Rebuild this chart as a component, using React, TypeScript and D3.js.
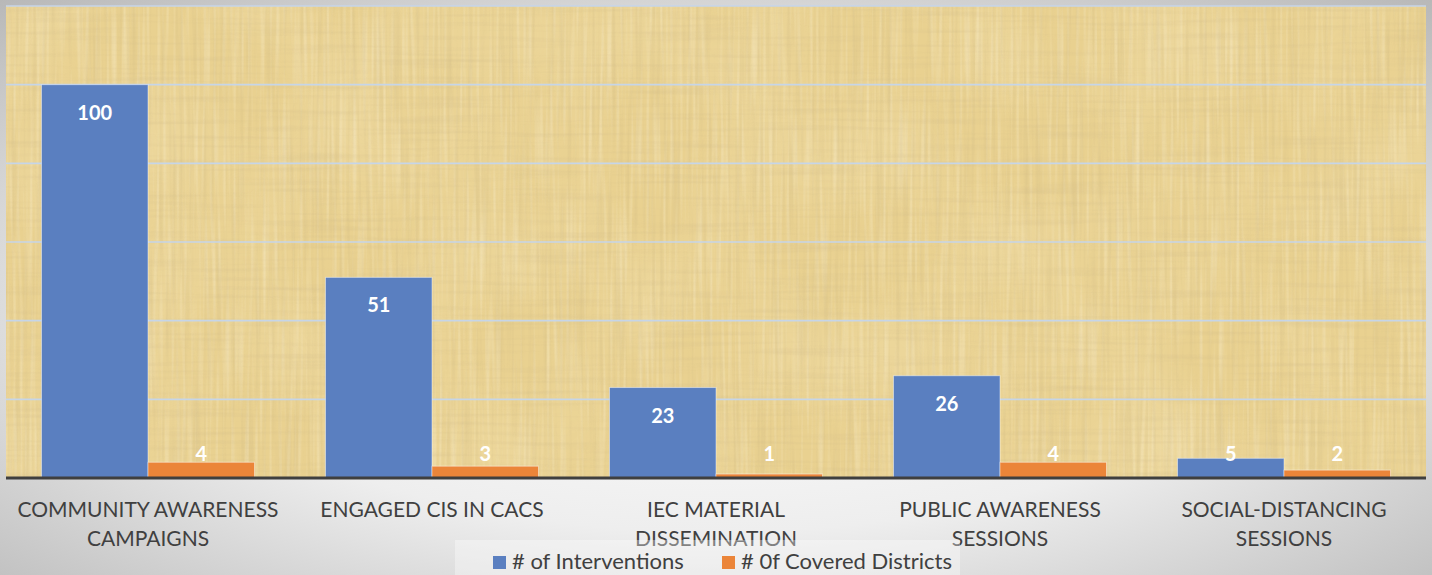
import React from "react";
import * as d3 from "d3";

const categories = [
  ["COMMUNITY AWARENESS", "CAMPAIGNS"],
  ["ENGAGED CIS IN CACS"],
  ["IEC MATERIAL", "DISSEMINATION"],
  ["PUBLIC AWARENESS", "SESSIONS"],
  ["SOCIAL-DISTANCING", "SESSIONS"],
];
const seriesNames = ["# of Interventions", "# 0f Covered Districts"];
const interventions = [100, 51, 23, 26, 5];
const coveredDistricts = [4, 3, 1, 4, 2];
const yTicks = [0, 20, 40, 60, 80, 100, 120];

const W = 1432;
const H = 575;
const colors = ["#5A7FC0", "#EB8539"];
const font = "Lato, 'Open Sans', sans-serif";

export default function App() {
  const plot = { left: 6, right: 1426, top: 6, bottom: 478 };
  const keys = categories.map((c) => c.join(" "));

  const x0 = d3.scaleBand().domain(keys).range([plot.left, plot.right]).padding(0);
  const x1 = d3
    .scaleBand()
    .domain(seriesNames)
    .range([0, x0.bandwidth()])
    .paddingInner(0)
    .paddingOuter(1 / 3);
  const y = d3.scaleLinear().domain([0, 120]).range([plot.bottom, plot.top]);

  const values = [interventions, coveredDistricts];
  const area = {
    x: plot.left,
    y: plot.top,
    width: plot.right - plot.left,
    height: plot.bottom - plot.top,
  };

  return (
    <svg
      width={W}
      height={H}
      style={{ position: "absolute", left: 0, top: 0, display: "block" }}
    >
      <defs>
        <radialGradient id="bg" cx="0.5" cy="0.55" r="0.75">
          <stop offset="0" stopColor="#ffffff" />
          <stop offset="0.5" stopColor="#eeeeee" />
          <stop offset="1" stopColor="#b7b7b7" />
        </radialGradient>
        <filter id="vFib" x="0" y="0" width="100%" height="100%">
          <feTurbulence type="fractalNoise" baseFrequency="0.25 0.008" numOctaves="2" seed="3" />
          <feColorMatrix
            type="matrix"
            values="0 0 0 0 0.6  0 0 0 0 0.47  0 0 0 0 0.22  1.8 0 0 0 -0.8"
          />
        </filter>
        <filter id="hFib" x="0" y="0" width="100%" height="100%">
          <feTurbulence type="fractalNoise" baseFrequency="0.008 0.22" numOctaves="2" seed="7" />
          <feColorMatrix
            type="matrix"
            values="0 0 0 0 0.6  0 0 0 0 0.47  0 0 0 0 0.24  1.7 0 0 0 -0.8"
          />
        </filter>
        <filter id="light" x="0" y="0" width="100%" height="100%">
          <feTurbulence type="fractalNoise" baseFrequency="0.3 0.01" numOctaves="1" seed="19" />
          <feColorMatrix
            type="matrix"
            values="0 0 0 0 1  0 0 0 0 0.96  0 0 0 0 0.82  1.8 0 0 0 -0.85"
          />
        </filter>
        <filter id="patch" x="0" y="0" width="100%" height="100%">
          <feTurbulence type="fractalNoise" baseFrequency="0.01 0.01" numOctaves="1" seed="11" />
          <feColorMatrix
            type="matrix"
            values="0 0 0 0 0.98  0 0 0 0 0.9  0 0 0 0 0.66  1.2 0 0 0 -0.45"
          />
        </filter>
      </defs>

      <rect x={0} y={0} width={W} height={H} fill="url(#bg)" />

      {/* papyrus plot area */}
      <g>
        <rect {...area} fill="#E9D190" />
        <rect {...area} filter="url(#patch)" opacity={0.35} />
        <rect {...area} filter="url(#light)" opacity={0.45} />
        <rect {...area} filter="url(#vFib)" opacity={0.35} />
        <rect {...area} filter="url(#hFib)" opacity={0.3} />
      </g>

      {/* gridlines */}
      {yTicks.slice(1).map((t) => (
        <line
          key={t}
          x1={plot.left}
          x2={plot.right}
          y1={y(t)}
          y2={y(t)}
          stroke="#C6D5E8"
          strokeWidth={1.6}
        />
      ))}

      {/* bars */}
      {keys.map((k, i) => (
        <g key={k} transform={`translate(${x0(k)},0)`}>
          {seriesNames.map((s, j) => {
            const v = values[j][i];
            const top = y(v);
            const cx = (x1(s) ?? 0) + x1.bandwidth() / 2;
            const labelY = Math.min(top + 28, 454) + 7;
            return (
              <g key={s}>
                <rect
                  x={x1(s)}
                  y={top}
                  width={x1.bandwidth()}
                  height={y(0) - top}
                  fill={colors[j]}
                  stroke="rgba(255,255,255,0.45)"
                  strokeWidth={1}
                />
                <text
                  x={cx}
                  y={labelY}
                  textAnchor="middle"
                  fill="#ffffff"
                  fontFamily={font}
                  fontWeight="bold"
                  fontSize={20}
                >
                  {v}
                </text>
              </g>
            );
          })}
        </g>
      ))}

      {/* baseline */}
      <line
        x1={plot.left}
        x2={plot.right}
        y1={y(0)}
        y2={y(0)}
        stroke="#3F3F3F"
        strokeWidth={3}
      />

      {/* category labels */}
      {categories.map((lines, i) => {
        const cx = (x0(keys[i]) ?? 0) + x0.bandwidth() / 2;
        return (
          <text
            key={keys[i]}
            x={cx}
            textAnchor="middle"
            fill="#404040"
            fontFamily={font}
            fontSize={21}
          >
            {lines.map((ln, li) => (
              <tspan key={li} x={cx} y={517 + li * 29}>
                {ln}
              </tspan>
            ))}
          </text>
        );
      })}

      {/* legend */}
      <rect x={455} y={540} width={505} height={35} fill="#ffffff" opacity={0.35} />
      {seriesNames.map((s, j) => {
        const lx = [493, 722][j];
        return (
          <g key={s}>
            <rect x={lx} y={556} width={13} height={13} fill={colors[j]} />
            <text
              x={lx + 19}
              y={569}
              fill="#404040"
              fontFamily={font}
              fontSize={22}
            >
              {s}
            </text>
          </g>
        );
      })}
    </svg>
  );
}
